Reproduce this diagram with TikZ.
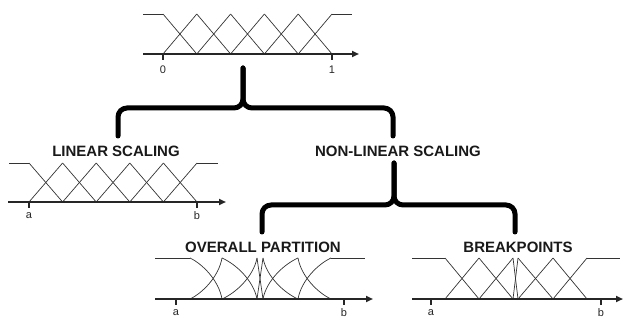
\documentclass[tikz,border=0pt]{standalone}
\usepackage{fontspec}
\setmainfont{Liberation Sans}
\usetikzlibrary{arrows.meta}
\tikzset{
  mf/.style={line width=0.7pt, draw=black!80},
  axisline/.style={line width=1.8pt, draw=black!85, -{Triangle[length=7pt,width=6pt]}},
  tickline/.style={line width=1.3pt, draw=black!85},
  ticklabel/.style={font=\fontsize{11}{11}\selectfont, inner sep=0pt, text=black!85},
  title/.style={font=\fontsize{15}{15}\selectfont\bfseries, inner sep=0pt, text=black!90},
  bracket/.style={line width=5pt, line cap=round, rounded corners=9pt, draw=black}
}
\begin{document}
\begin{tikzpicture}[x=1pt,y=-1pt]
\useasboundingbox (0,0) rectangle (623,320);

% ---------- top chart ----------
\draw[mf] (143,14) -- (163,14);
\draw[mf] (332,14) -- (352,14);
\foreach \p/\q in {163/196.8, 196.8/230.6, 230.6/264.4, 264.4/298.2, 298.2/332}{
  \draw[mf] (\p,14) -- (\q,54);
  \draw[mf] (\p,54) -- (\q,14);
}
\draw[axisline] (143,54) -- (359,54);
\draw[tickline] (163,54) -- (163,60);
\draw[tickline] (332,54) -- (332,60);
\node[ticklabel] (l0) at (163,70) {0};
\node[ticklabel] (l1) at (332,70) {1};

% ---------- linear scaling chart ----------
\draw[mf] (9,163) -- (29,163);
\draw[mf] (197,163) -- (218,163);
\foreach \p/\q in {29/62.6, 62.6/96.2, 96.2/129.8, 129.8/163.4, 163.4/197}{
  \draw[mf] (\p,163) -- (\q,202);
  \draw[mf] (\p,202) -- (\q,163);
}
\draw[axisline] (8,202) -- (226,202);
\draw[tickline] (29,202) -- (29,208);
\draw[tickline] (197,202) -- (197,208);
\node[ticklabel] (la1) at (29,216) {a};
\node[ticklabel] (lb1) at (197,216) {b};

% ---------- overall partition chart ----------
\draw[mf] (155,258) -- (190,258);
\draw[mf] (331,258) -- (365,258);
\foreach \p/\q in {190/222, 222/257}{
  \draw[mf] (\p,258) .. controls ({\p+0.4*(\q-\p)},264.15) and ({\p+0.9*(\q-\p)},280.55) .. (\q,299);
  \draw[mf] (\p,299) .. controls ({\p+0.4*(\q-\p)},292.85) and ({\p+0.9*(\q-\p)},276.45) .. (\q,258);
}
\draw[mf] (257,258) -- (263,299);
\draw[mf] (257,299) -- (263,258);
\foreach \p/\q in {263/298, 298/331}{
  \draw[mf] (\p,299) .. controls ({\p+0.1*(\q-\p)},280.55) and ({\p+0.6*(\q-\p)},264.15) .. (\q,258);
  \draw[mf] (\p,258) .. controls ({\p+0.1*(\q-\p)},276.45) and ({\p+0.6*(\q-\p)},292.85) .. (\q,299);
}
\draw[axisline] (155,299) -- (373,299);
\draw[tickline] (176,299) -- (176,305);
\draw[tickline] (344,299) -- (344,305);
\node[ticklabel] (la2) at (176,313) {a};
\node[ticklabel] (lb2) at (344,313) {b};

% ---------- breakpoints chart ----------
\draw[mf] (412,258) -- (445,258);
\draw[mf] (587,258) -- (620,258);
\foreach \p/\q in {445/479, 479/513, 513/518, 518/553, 553/587}{
  \draw[mf] (\p,258) -- (\q,299);
  \draw[mf] (\p,299) -- (\q,258);
}
\draw[axisline] (412,299) -- (623,299);
\draw[tickline] (431,299) -- (431,305);
\draw[tickline] (601,299) -- (601,305);
\node[ticklabel] (la3) at (431,313) {a};
\node[ticklabel] (lb3) at (601,313) {b};

% ---------- titles ----------
\node[title] (lin) at (116,151.5) {LINEAR SCALING};
\node[title] (nonlin) at (398,151.5) {NON-LINEAR SCALING};
\node[title] (overall) at (263,247.5) {OVERALL PARTITION};
\node[title] (brk) at (518,247.5) {BREAKPOINTS};

% ---------- brackets ----------
\coordinate (t0) at (243,68);
\coordinate (t1) at (243,108);
\coordinate (tl) at (118,136);
\coordinate (tr) at (393,136);
\draw[bracket] (t0) -- (t1) -| (tl);
\draw[bracket] (t0) -- (t1) -| (tr);

\coordinate (n0) at (394,163);
\coordinate (n1) at (394,205);
\coordinate (nl) at (262,232);
\coordinate (nr) at (515,232);
\draw[bracket] (n0) -- (n1) -| (nl);
\draw[bracket] (n0) -- (n1) -| (nr);
\end{tikzpicture}
\end{document}
